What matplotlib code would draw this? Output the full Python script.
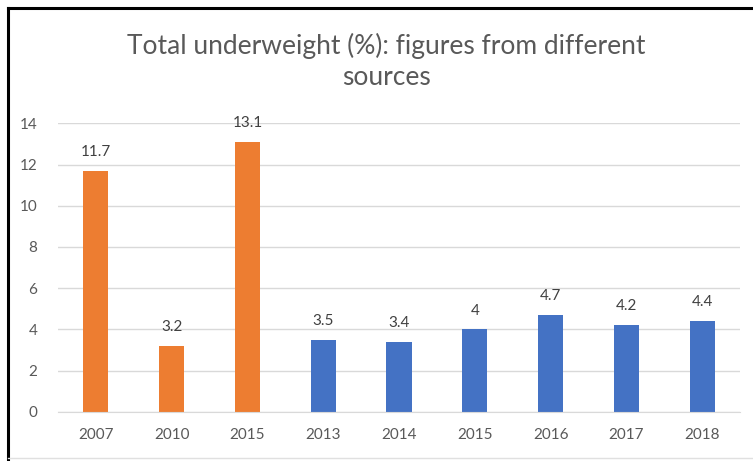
import matplotlib
matplotlib.use("Agg")
import matplotlib.pyplot as plt
from matplotlib.lines import Line2D

categories = ["2007", "2010", "2015", "2013", "2014", "2015", "2016", "2017", "2018"]
values = [11.7, 3.2, 13.1, 3.5, 3.4, 4.0, 4.7, 4.2, 4.4]
labels = ["11.7", "3.2", "13.1", "3.5", "3.4", "4", "4.7", "4.2", "4.4"]
source_group = ["A", "A", "A", "B", "B", "B", "B", "B", "B"]
group_colors = {"A": "#ED7D31", "B": "#4472C4"}
yticks = [0, 2, 4, 6, 8, 10, 12, 14]
title = "Total underweight (%): figures from different\nsources"

plt.rcParams['font.family'] = ['Lato', 'DejaVu Sans']

fig = plt.figure(figsize=(7.53, 4.61), dpi=100)
ax = fig.add_axes([58/753, 1-411.7/461, (740-58)/753, (411.7-123.3)/461])

x = list(range(len(categories)))
colors = [group_colors[g] for g in source_group]
ax.bar(x, values, width=0.33, color=colors, zorder=3)

for xi, v, lab in zip(x, values, labels):
    ax.annotate(lab, (xi, v), xytext=(0, 13.5), textcoords="offset points",
                ha="center", va="center", fontsize=11, color="#404040")

ax.set_xlim(-0.5, len(categories) - 0.5)
ax.set_ylim(0, 14)
ax.set_yticks(yticks)
ax.set_xticks(x)
ax.set_xticklabels(categories)
ax.tick_params(axis="both", length=0, labelsize=11, colors="#595959")
ax.tick_params(axis="x", pad=12)
ax.tick_params(axis="y", pad=15)
ax.grid(axis="y", color="#D9D9D9", linewidth=1, zorder=0)
for s in ["top", "right", "left"]:
    ax.spines[s].set_visible(False)
ax.spines["bottom"].set_color("#D9D9D9")
ax.spines["bottom"].set_zorder(4)

fig.text(386/753, 1-61.5/461, title, ha="center", va="center", fontsize=19,
         color="#595959", linespacing=1.3)

# frame lines of the screenshot
fig.add_artist(Line2D([8/753, 1], [1-8/461, 1-8/461], color="black", linewidth=2.2,
                      transform=fig.transFigure))
fig.add_artist(Line2D([8/753, 8/753], [0, 1-8/461], color="black", linewidth=2.2,
                      transform=fig.transFigure))
fig.add_artist(Line2D([8/753, 1], [3/461, 3/461], color="#E0E0E0", linewidth=1,
                      transform=fig.transFigure))

fig.savefig("out.png", dpi=100)
